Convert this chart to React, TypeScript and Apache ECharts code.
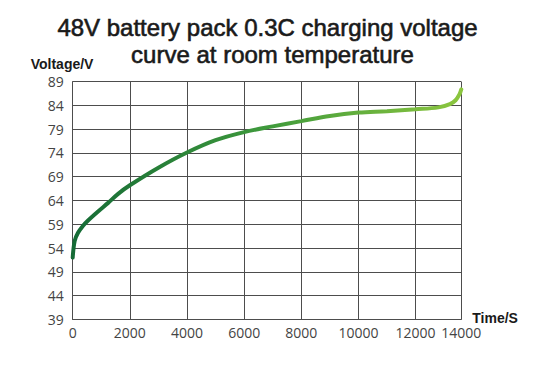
import React, { useEffect, useRef } from "react";
import * as echarts from "echarts";

const timeSeconds = [0, 70, 186, 362, 537, 888, 1240, 1590, 2000, 3000, 4000, 5000, 6000, 7000, 8000, 9000, 10000, 11000, 12000, 12800, 13200, 13400, 13540, 13600];
const voltage = [52.0, 55.5, 57.2, 58.7, 59.8, 61.7, 63.5, 65.4, 67.2, 70.9, 74.1, 76.7, 78.4, 79.6, 80.7, 81.8, 82.5, 82.8, 83.2, 83.6, 84.3, 85.1, 86.4, 87.4];
const xMaxTickLabel = "14000";
const titleLines = ["48V battery pack 0.3C charging voltage", "curve at room temperature"];
const yAxisName = "Voltage/V";
const xAxisName = "Time/S";

export default function App() {
  const ref = useRef<HTMLDivElement>(null);
  useEffect(() => {
    if (!ref.current) return;
    const chart = echarts.init(ref.current, null, { renderer: "svg" });
    const xMax = timeSeconds[timeSeconds.length - 1];
    const titleStyle = {
      fontFamily: "Liberation Sans, Arial, sans-serif",
      fontSize: 24,
      fill: "#1a1a1a",
      stroke: "#1a1a1a",
      lineWidth: 0.6,
      align: "center",
      verticalAlign: "middle",
    };
    const nameStyle = {
      fontFamily: "Liberation Sans, Arial, sans-serif",
      fontSize: 14,
      fontWeight: "bold",
      fill: "#1a1a1a",
      align: "left",
      verticalAlign: "middle",
    };
    chart.setOption({
      animation: false,
      backgroundColor: "#ffffff",
      graphic: [
        { type: "text", x: 267.5, y: 27, style: { ...titleStyle, text: titleLines[0] } },
        { type: "text", x: 272.5, y: 54, style: { ...titleStyle, text: titleLines[1] } },
        { type: "text", x: 30.7, y: 63.5, style: { ...nameStyle, text: yAxisName } },
        { type: "text", x: 472.3, y: 318, style: { ...nameStyle, text: xAxisName } },
      ],
      grid: { left: 72.7, right: 91.7, top: 81.7, bottom: 45.7, containLabel: false },
      xAxis: {
        type: "value",
        min: 0,
        max: xMax,
        interval: 2000,
        axisLine: { show: true, lineStyle: { color: "#4d4d4d", width: 1 } },
        axisTick: { show: false },
        splitLine: { show: true, lineStyle: { color: "#4d4d4d", width: 1 } },
        axisLabel: {
          margin: 6,
          fontFamily: "Open Sans, sans-serif",
          fontSize: 14,
          color: "#444",
          showMaxLabel: true,
          showMinLabel: true,
          formatter: (v: number) => (v === xMax ? xMaxTickLabel : String(v)),
        },
      },
      yAxis: {
        type: "value",
        min: 39,
        max: 89,
        interval: 5,
        axisLine: { show: true, lineStyle: { color: "#4d4d4d", width: 1 } },
        axisTick: { show: false },
        splitLine: { show: true, lineStyle: { color: "#4d4d4d", width: 1 } },
        axisLabel: {
          margin: 9,
          fontFamily: "Open Sans, sans-serif",
          fontSize: 14,
          color: "#444",
        },
      },
      series: [
        {
          type: "line",
          data: timeSeconds.map((t, i) => [t, voltage[i]]),
          smooth: 0.35,
          symbol: "none",
          lineStyle: {
            width: 4,
            cap: "round",
            color: new echarts.graphic.LinearGradient(0, 0, 1, 0, [
              { offset: 0, color: "#156b36" },
              { offset: 0.5, color: "#3f9a3c" },
              { offset: 1, color: "#8cc63f" },
            ]),
          },
        },
      ],
    });
    return () => chart.dispose();
  }, []);
  return <div ref={ref} style={{ width: 553, height: 365, position: "absolute", left: 0, top: 0 }} />;
}
